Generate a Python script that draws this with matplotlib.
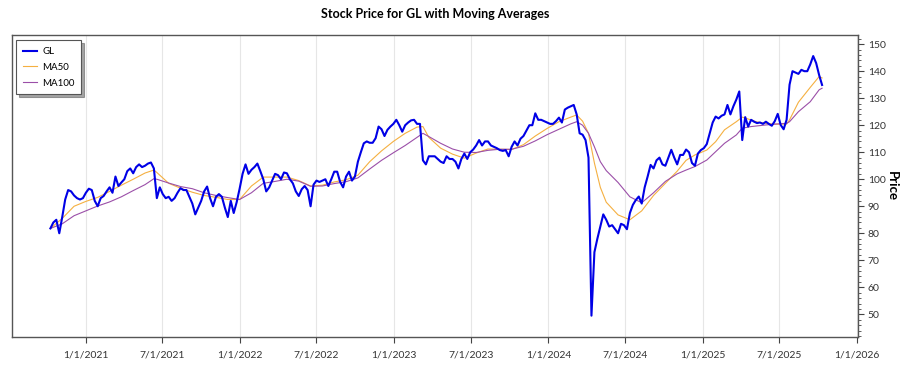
import numpy as np
import pandas as pd
import matplotlib
matplotlib.use("Agg")
import matplotlib.pyplot as plt
import matplotlib.dates as mdates
from matplotlib.ticker import FuncFormatter, MultipleLocator

start = pd.Timestamp("2020-10-09")

# weekly closing prices (one value per week)
price = [
    81.8, 84, 85, 80, 86, 92.5, 96, 95.5, 94, 93,
    92.5, 93, 95, 96.5, 96, 92, 90, 93, 93.8, 95.5,
    97, 95, 101, 97.5, 98.8, 100, 103, 104, 102.2, 104.5,
    105.5, 104.5, 105, 105.8, 106.2, 104, 93, 97, 94.5, 93,
    93.5, 92, 93, 95, 96.7, 96, 96, 93.5, 91, 87,
    89.5, 92, 95.5, 97.3, 93, 90, 93.5, 94.5, 93.5, 89.5,
    86, 92, 87.5, 91.5, 96.5, 102, 105.5, 102, 103.5, 104.5,
    105.8, 103, 100, 95.5, 97, 99.5, 102, 101.5, 100, 102.5,
    102.2, 100, 98.5, 95.5, 93.8, 96.3, 97.5, 96, 90, 98,
    99.5, 99, 99.5, 100, 97.5, 100, 102.8, 102.8, 99, 97,
    101, 102.8, 99.5, 101, 106.5, 110, 113.3, 114, 113.5, 113.5,
    115.2, 119.5, 118.5, 116, 118.3, 119.5, 120.5, 122, 120, 117.6,
    120, 121, 121.8, 122, 120.5, 120.5, 107, 105.5, 108.5, 108.5,
    108.5, 107.5, 106.5, 106, 108.5, 107.5, 107.5, 106.5, 104, 107.5,
    109.5, 107.5, 110, 111, 112.5, 114.5, 112.5, 114, 114, 112.5,
    112, 111.5, 110.8, 110.5, 110.8, 108.5, 112, 114, 112.5, 115,
    116, 118, 120, 120, 124.4, 122, 122, 121.5, 121, 120.5,
    120.5, 121.5, 122.8, 121, 125.8, 126.5, 127, 127.5, 124, 117,
    116.5, 114.5, 108, 49.5, 73, 78, 82.5, 87, 85, 82.5,
    83, 81.5, 80, 83.5, 83, 81.5, 87.5, 90.5, 92.3, 93.6,
    91, 97, 101, 105.3, 104, 107, 108, 105.5, 105, 108,
    110.9, 108, 105.5, 109, 109, 111, 110, 106, 105, 109.5,
    110.8, 111.5, 113, 117, 121, 123.2, 122.5, 123.5, 124, 127.5,
    124, 127, 129.5, 132.5, 114.5, 123, 119.5, 122, 121.3, 120.8,
    121, 120.5, 121.3, 120.5, 119.8, 121.5, 124.2, 120.1, 118.5, 122,
    135, 140, 139.5, 139, 140.5, 140, 140, 142.5, 145.6, 143,
    138.6, 134.9,
]

# moving averages at these week numbers
ma50_weeks = [0, 4, 8, 12, 16, 20, 24, 28, 32, 35, 36, 40, 44, 48, 52, 56, 60, 64, 68, 72,
              76, 80, 84, 88, 92, 96, 100, 104, 108, 112, 116, 120, 124, 126, 128, 132, 136, 140, 144, 148,
              152, 156, 160, 164, 168, 172, 176, 178, 180, 182, 184, 186, 188, 192, 196, 200, 204, 208, 212, 215,
              218, 222, 225, 228, 232, 234, 236, 239, 242, 245, 249, 250, 253, 257, 260, 261]
ma50 = [81.8, 85.5, 90, 91.8, 93.3, 95.5, 97.8, 100, 102.3, 103.4, 102.5, 98.5, 96.7, 95.2, 94, 93.3, 92.5, 92.5, 97.5, 100.8,
        100.8, 100.8, 99.5, 97.5, 97.8, 99, 99.8, 101.5, 106.5, 110.5, 114, 117, 119.3, 119.5, 115.5, 111.5, 109.3, 107.8, 109.7, 111.2,
        111.1, 111, 112.8, 116, 118.8, 121.3, 123, 123.8, 121.5, 117, 106, 97, 91.5, 86.8, 85, 88.3, 94, 98.5, 103, 107,
        109, 110.8, 113.9, 118.3, 121.3, 123, 122.3, 121.2, 120.7, 120.4, 120.4, 122, 128.5, 134, 138, 137.5]

ma100_weeks = [0, 4, 8, 12, 16, 20, 24, 28, 32, 35, 36, 40, 44, 48, 52, 56, 60, 64, 68, 72,
               76, 80, 84, 88, 92, 96, 100, 104, 108, 112, 116, 120, 124, 126, 128, 132, 136, 140, 144, 148,
               152, 156, 160, 164, 168, 172, 176, 178, 180, 182, 184, 186, 188, 192, 196, 200, 204, 208, 212, 215,
               218, 222, 225, 228, 232, 234, 237, 242, 245, 249, 250, 253, 257, 260, 261]
ma100 = [81.8, 83.5, 86.5, 88.3, 90.1, 91.6, 93.5, 95.8, 98, 100.2, 100, 98.6, 97.3, 96.5, 95, 94, 93.2, 92.5, 95, 98.5,
         99.2, 100, 99.3, 97.4, 97.5, 98.4, 99.1, 100.5, 103.8, 107, 109.8, 112.5, 115.5, 117, 115.8, 113.3, 111.2, 110, 109.9, 110.7,
         111.1, 111.1, 112.2, 114.2, 116.5, 118.5, 120.5, 121.3, 120, 117, 112, 106.5, 103.2, 98.8, 93.5, 91.3, 95, 99.2, 102, 103.4,
         104.7, 107.1, 110.2, 113.3, 116.4, 118.9, 119.5, 120.1, 120.4, 120.7, 121.3, 125, 128.7, 133.1, 133.7]


def week_dates(weeks):
    return start + pd.to_timedelta(np.array(weeks) * 7, unit="D")


price_dates = week_dates(range(len(price)))

plt.rcParams["font.family"] = ["Lato", "DejaVu Sans"]

fig = plt.figure(figsize=(9, 3.75), dpi=100)
ax = fig.add_axes([0.0133, 0.1013, 0.94, 0.8054])

ax.plot(price_dates, price, color="#0000e6", linewidth=1.5, label="GL", zorder=3)
ax.plot(week_dates(ma50_weeks), ma50, color="#f5b041", linewidth=0.8, label="MA50", zorder=2)
ax.plot(week_dates(ma100_weeks), ma100, color="#9b4fa8", linewidth=0.8, label="MA100", zorder=2)

ax.set_xlim(pd.Timestamp("2020-07-10"), pd.Timestamp("2026-01-03"))
ax.set_ylim(41.6, 153.4)

ax.xaxis.set_major_locator(mdates.MonthLocator(bymonth=[1, 7]))
ax.xaxis.set_major_formatter(FuncFormatter(
    lambda v, pos: (lambda d: f"{d.month}/{d.day}/{d.year}")(mdates.num2date(v))))
ax.grid(axis="x", color="#e6e6e6", linewidth=0.8)
ax.set_axisbelow(True)

ax.yaxis.tick_right()
ax.yaxis.set_label_position("right")
ax.yaxis.set_major_locator(MultipleLocator(10))
ax.yaxis.set_minor_locator(MultipleLocator(2))
ax.set_ylabel("Price", rotation=270, labelpad=9, fontsize=9.5, fontweight="bold")

ax.tick_params(axis="x", length=4, pad=6, labelsize=7.5, colors="#444444", labelcolor="#333333")
ax.tick_params(axis="y", which="major", length=4, pad=3, labelsize=7.5, colors="#444444", labelcolor="#333333")
ax.tick_params(axis="y", which="minor", length=2, colors="#444444")

for s in ax.spines.values():
    s.set_color("#555555")
    s.set_linewidth(1)

leg = ax.legend(loc="upper left", fontsize=7, frameon=True, fancybox=False, shadow=True,
                borderpad=0.7, handlelength=1.5, handletextpad=0.5, labelspacing=0.7,
                borderaxespad=0, bbox_to_anchor=(0.0047, 0.983))
leg.get_frame().set_edgecolor("#555555")
leg.get_frame().set_linewidth(0.8)

ax.set_title("Stock Price for GL with Moving Averages", fontsize=9, fontweight="bold", pad=12)

fig.savefig("out.png", dpi=100)
